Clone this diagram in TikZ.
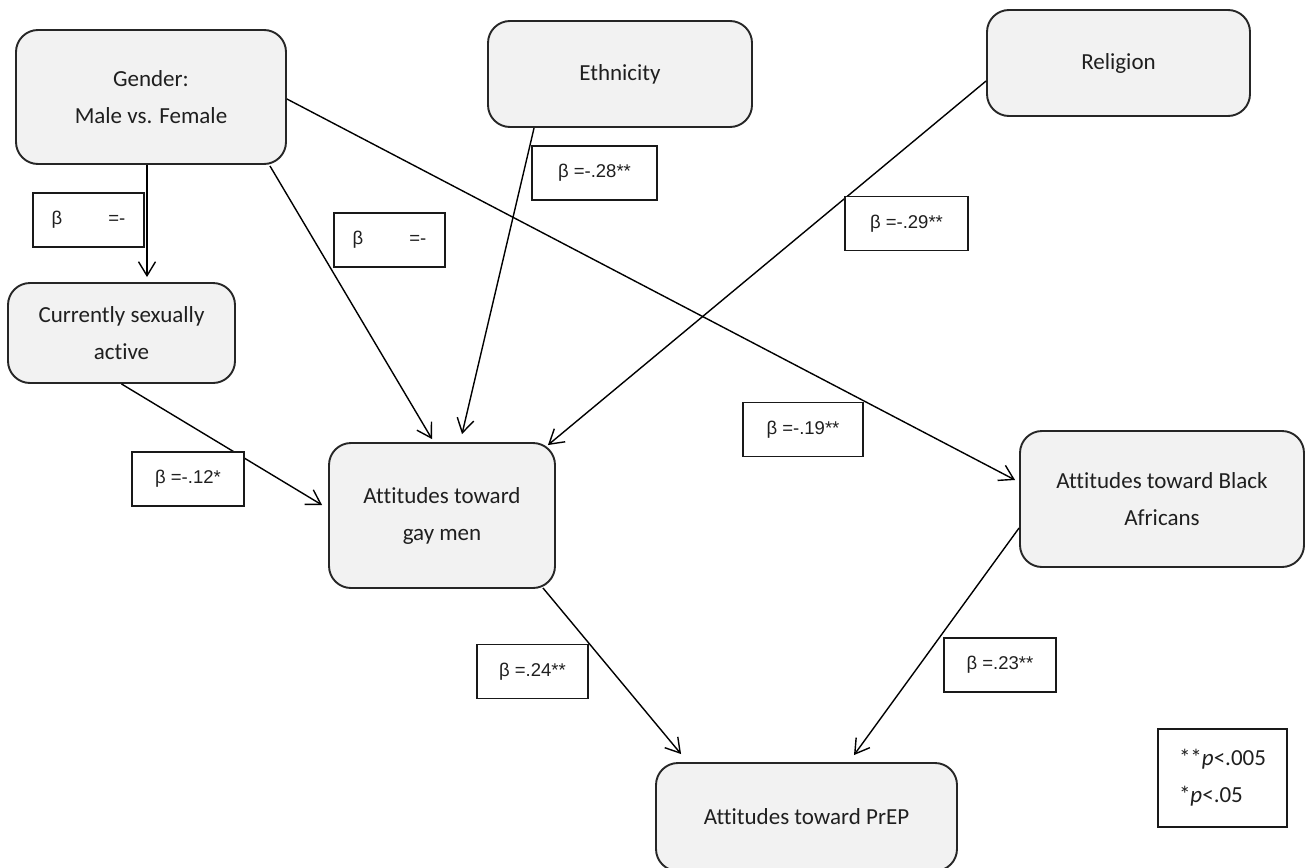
\documentclass[tikz,border=0pt]{standalone}
\usepackage{fontspec}
\setmainfont{Carlito}[Ligatures=NoCommon]
\newfontfamily\arialfont{Liberation Sans}
\usetikzlibrary{arrows.meta}

\begin{document}
\begin{tikzpicture}[
  x=1pt, y=-1pt,
  var/.style={draw=black!85, line width=1.9pt, fill=black!5, rounded corners=22pt,
              align=center, inner sep=0pt, text=black!88,
              font=\fontsize{23}{37}\selectfont},
  beta/.style={draw=black!90, line width=1.4pt, fill=white, inner sep=0pt,
               minimum width=#1, minimum height=54pt, text=black!88,
               font=\arialfont\fontsize{18.5}{22}\selectfont},
  beta/.default=111pt,
  arr/.style={-{Straight Barb[length=14pt, width=17pt]}, line width=1.4pt},
]
  \fill[white] (0,0) rectangle (1305,867);
  \useasboundingbox (0,0) rectangle (1305,867);

  % variables
  \node[var, minimum width=270pt, minimum height=134pt] (gender) at (151,97)    {Gender:\\Male vs. Female};
  \node[var, minimum width=264pt, minimum height=106pt] (ethnic) at (620,74)    {Ethnicity};
  \node[var, minimum width=263pt, minimum height=106pt] (relig)  at (1118.5,63) {Religion};
  \node[var, minimum width=227pt, minimum height=100pt] (active) at (121.5,333) {Currently sexually\\active};
  \node[var, minimum width=226pt, minimum height=145pt] (gay)    at (442,515.5) {Attitudes toward\\gay men};
  \node[var, minimum width=284pt, minimum height=136pt] (black)  at (1162,499)  {Attitudes toward Black\\Africans};
  \node[var, minimum width=301pt, minimum height=108pt] (prep)   at (806.5,817) {Attitudes toward PrEP};

  % paths
  \draw[arr] ([xshift=-4pt]gender.south) -- ([xshift=25.5pt, yshift=5pt]active.north);
  \draw[arr] ([xshift=-17pt, yshift=-1pt]gender.south east) -- ([xshift=-10pt, yshift=3pt]gay.north);
  \draw[arr] ([xshift=47pt]ethnic.south west) -- ([xshift=20pt, yshift=8pt]gay.north);
  \draw[arr] ([yshift=-18pt]relig.west) -- ([xshift=-8pt, yshift=-3pt]gay.north east);
  \draw[arr] ([yshift=-2pt]gender.east) -- ([xshift=-4pt, yshift=19pt]black.west);
  \draw[arr] (active.south) -- ([xshift=-6pt, yshift=10.5pt]gay.west);
  \draw[arr] ([xshift=-13pt, yshift=1pt]gay.south east) -- ([xshift=26pt, yshift=8pt]prep.north west);
  \draw[arr] ([yshift=-29pt]black.west) -- ([xshift=47.5pt, yshift=7pt]prep.north);

  % coefficients
  \node[beta]       (bGA) at (88.5,220)   {β\hspace{46pt}=-};
  \node[beta]       (bGG) at (389.5,240)  {β\hspace{46pt}=-};
  \node[beta=125pt] (bEG) at (594.5,173)  {β =-.28**};
  \node[beta=123pt] (bRG) at (906.5,223.5) {β =-.29**};
  \node[beta=112pt] (bAG) at (188,479)    {β =-.12*};
  \node[beta=120pt] (bGB) at (803,429.5)  {β =-.19**};
  \node[beta=112pt] (bBP) at (1000,665)   {β =.23**};
  \node[beta]       (bGP) at (532.5,671.5) {β =.24**};

  % legend
  \node[draw=black!90, line width=1.4pt, minimum width=129pt, minimum height=98pt,
        align=left, inner sep=0pt, text=black!88, font=\fontsize{23}{37}\selectfont]
        (legend) at (1222.5,778) {**\textit{p}<.005\\*\textit{p}<.05};
\end{tikzpicture}
\end{document}
